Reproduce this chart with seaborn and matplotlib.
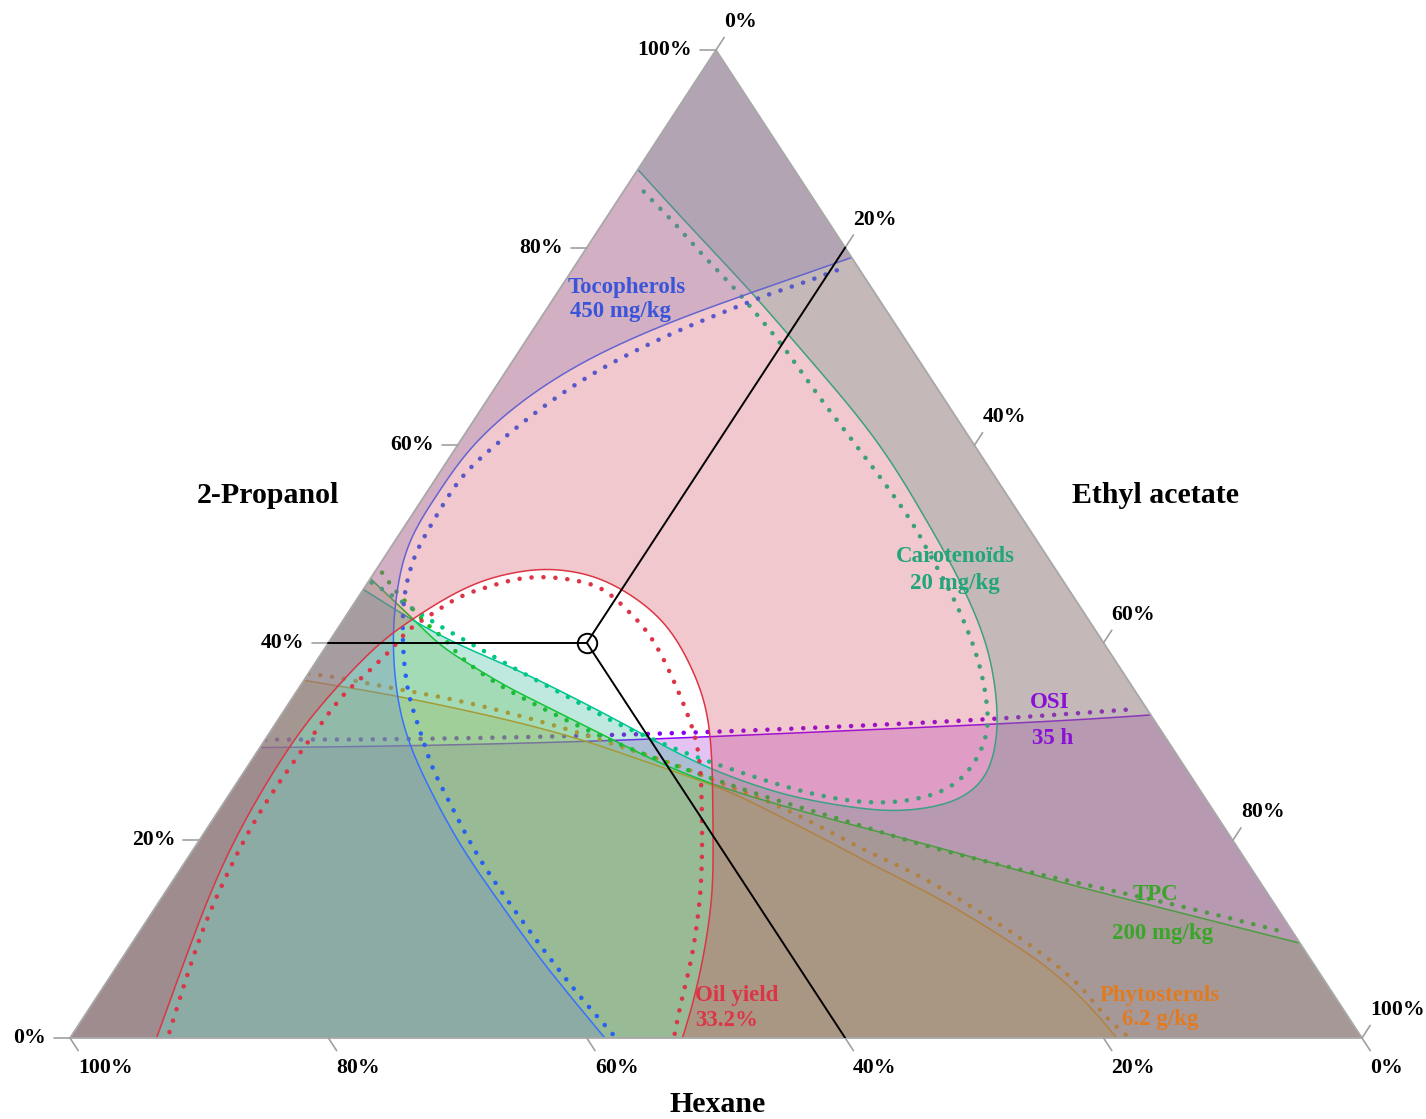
import numpy as np
import matplotlib
matplotlib.use("Agg")
import matplotlib.pyplot as plt
from matplotlib.patches import Polygon
import seaborn as sns

# Contours of the fitted responses, as mixture compositions in %:
# *_p = 2-propanol, *_e = ethyl acetate (hexane = 100 - p - e).
# Solid line = threshold contour, dotted line = its confidence bound.
oil_level = 33.2
oil_p = [0, 8.9, 19.0, 29.5, 34.2, 40.0, 42.7, 44.8, 46.4, 47.2, 47.5, 47.3, 46.6, 44.8,
         42.0, 38.0, 33.5, 28.4, 24.1, 18.0, 14.0, 8.9, 3.8, 0]
oil_e = [6.7, 4.7, 2.6, 2.1, 2.6, 3.8, 5.5, 7.0, 8.8, 11.0, 12.9, 15.1, 17.7, 21.2,
         25.2, 29.0, 32.6, 35.5, 37.7, 40.8, 42.7, 44.7, 46.4, 47.4]
oil_ci_p = [0.6, 8.9, 14.0, 19.3, 23.4, 27.4, 31.2, 34.9, 36.5, 38.3, 39.5, 41.3, 42.8, 44.1,
            45.0, 45.6, 46.6, 46.7, 46.4, 45.9, 45.0, 43.3, 41.3, 38.6, 34.2, 29.5, 24.4,
            18.7, 14.0, 7.9, 3.8, 0.4]
oil_ci_e = [7.4, 5.2, 4.2, 3.5, 3.2, 3.3, 3.5, 3.7, 4.4, 4.9, 5.3, 5.4, 6.5, 7.3,
            8.2, 9.4, 11.4, 13.6, 15.7, 17.6, 19.3, 21.5, 24.0, 26.6, 30.3, 34.0, 36.7,
            39.6, 41.8, 44.2, 45.4, 46.6]

toco_level = 450
toco_p = [79.0, 75.5, 72.4, 68.6, 64.3, 59.8, 55.5, 50.4, 45.3, 40.0, 33.5, 28.8, 24.1,
          19.0, 14.0, 8.9, 4.4, 0]
toco_e = [21.0, 15.1, 10.0, 5.4, 2.5, 1.0, 0.9, 0.9, 2.6, 4.9, 8.6, 12.1, 16.2,
          20.9, 26.1, 31.4, 36.4, 41.4]
toco_ci_p = [77.7, 76.4, 75.4, 74.2, 72.4, 70.3, 67.4, 63.6, 59.3, 56.8, 53.2, 49.6, 47.4,
             44.6, 40.6, 36.5, 33.9, 30.9, 27.1, 24.4, 19.0, 14.0, 8.9, 4.4, 0.4]
toco_ci_e = [20.5, 18.5, 16.6, 14.9, 12.3, 9.7, 6.8, 4.4, 2.6, 1.8, 1.9, 2.1, 2.6,
             3.5, 5.4, 7.7, 9.4, 11.7, 14.5, 17.0, 21.7, 26.8, 32.2, 37.1, 41.8]

carot_level = 20
carot_p = [45.4, 40.5, 37.8, 34.5, 30.9, 27.6, 25.1, 24.1, 23.3, 22.9, 23.3, 24.4, 26.8,
           30.9, 35.2, 40.3, 46.4, 52.4, 60.5, 68.6, 75.7, 81.8, 87.9]
carot_e = [0, 8.4, 14.9, 21.7, 28.7, 34.9, 41.4, 45.0, 49.0, 52.3, 55.2, 57.2, 57.8,
           56.4, 54.1, 50.8, 45.7, 40.1, 32.4, 23.0, 14.8, 7.3, 0]
carot_ci_p = [46.1, 44.3, 41.8, 39.6, 37.6, 35.9, 33.9, 32.0, 30.5, 28.6, 26.8, 24.9, 23.8,
              23.8, 24.8, 26.8, 30.2, 33.2, 37.6, 41.5, 45.5, 49.2, 52.4, 59.5, 64.6,
              69.4, 73.2, 76.4, 79.0, 82.3, 84.5, 86.3]
carot_ci_e = [0.3, 3.4, 7.5, 11.7, 15.3, 18.6, 22.5, 26.0, 29.4, 33.7, 38.7, 44.1, 49.0,
              52.4, 55.2, 56.2, 55.9, 54.5, 51.7, 48.7, 45.3, 41.8, 39.0, 31.4, 25.8,
              20.9, 16.6, 12.9, 9.6, 5.8, 3.0, 0.8]

osi_level = 35
osi_p = [29.4, 29.5, 30.0, 30.9, 32.0, 32.7]
osi_e = [0, 9.3, 26.0, 41.1, 59.9, 67.3]
osi_ci_p = [30.2, 30.2, 30.6, 31.1, 31.8, 32.3, 33.3]
osi_ci_e = [0, 10.5, 25.7, 37.1, 48.4, 55.8, 65.9]

tpc_level = 200
tpc_p = [46.5, 42.0, 39.6, 37.6, 35.5, 33.9, 32.2, 30.5, 28.3, 26.1, 24.1, 21.6, 19.0,
         16.3, 13.7, 9.6]
tpc_e = [0, 5.9, 8.9, 12.4, 16.1, 19.4, 22.8, 26.3, 30.7, 35.7, 41.4, 49.6, 58.6,
         66.9, 76.0, 90.4]
tpc_ci_p = [47.1, 45.0, 43.8, 41.8, 40.6, 38.8, 37.2, 35.5, 33.5, 31.5, 29.7, 28.1, 26.1,
            24.1, 22.3, 20.2, 18.5, 16.3, 14.3, 12.7, 10.9]
tpc_ci_e = [0.6, 2.8, 4.4, 6.7, 8.6, 10.6, 12.9, 15.7, 19.6, 23.7, 27.7, 31.6, 37.0,
            42.4, 48.2, 54.1, 59.6, 67.7, 75.7, 81.7, 88.0]

phyto_level = 6.2
phyto_p = [36.2, 34.9, 33.5, 32.0, 30.2, 28.4, 26.1, 24.8, 23.1, 21.4, 19.7, 18.2, 16.2,
           13.5, 10.4, 7.1, 3.3, 0]
phyto_e = [0, 6.8, 12.7, 18.6, 24.6, 29.4, 35.7, 38.9, 42.4, 45.8, 49.2, 52.0, 56.1,
           61.4, 66.8, 72.3, 77.3, 81.0]
phyto_ci_p = [36.9, 36.5, 35.5, 34.5, 33.5, 32.2, 30.9, 29.1, 27.6, 25.9, 24.6, 22.8, 20.7,
              18.7, 16.5, 13.7, 10.9, 7.6, 4.9, 2.3, 0.3]
phyto_ci_e = [0, 2.5, 6.8, 11.6, 15.5, 19.9, 24.0, 28.9, 33.4, 37.1, 40.6, 44.6, 48.7,
              52.6, 57.5, 62.4, 67.3, 72.4, 76.1, 78.8, 81.6]

# optimal blend (hexane, 2-propanol, ethyl acetate) in %
opt_hexane, opt_propanol, opt_acetate = 40, 40, 20
tick_values = [0, 20, 40, 60, 80, 100]

sns.set_theme(style="white")
plt.rcParams["font.family"] = ["Liberation Serif", "DejaVu Serif"]
plt.rcParams["font.weight"] = "bold"

W, H = 1426, 1119
fig = plt.figure(figsize=(W / 100, H / 100), dpi=100)
fig.patch.set_facecolor("white")
ax = fig.add_axes([70 / W, 81 / H, 1292 / W, 988 / H])
PX_X, PX_Y = 1292.0, 988.0


def tern(p, e):
    p = np.asarray(p, float) / 100.0
    e = np.asarray(e, float) / 100.0
    return e + p / 2.0, p


def basis(x, y, n=16):
    """Clamped cubic B-spline through the contour vertices (smooth contour rendering)."""
    pts = np.column_stack([np.atleast_1d(x), np.atleast_1d(y)])
    P = np.vstack([pts[0], pts[0], pts, pts[-1], pts[-1]])
    t = np.linspace(0, 1, n, endpoint=False)[:, None]
    b0 = (1 - t) ** 3 / 6
    b1 = (3 * t ** 3 - 6 * t ** 2 + 4) / 6
    b2 = (-3 * t ** 3 + 3 * t ** 2 + 3 * t + 1) / 6
    b3 = t ** 3 / 6
    out = [b0 * P[i] + b1 * P[i + 1] + b2 * P[i + 2] + b3 * P[i + 3]
           for i in range(len(P) - 3)]
    out.append(pts[-1][None])
    out = np.vstack(out)
    return out[:, 0], out[:, 1]


V_H, V_E, V_P = (0.0, 0.0), (1.0, 0.0), (0.5, 1.0)
tri = Polygon([V_H, V_E, V_P], closed=True, transform=ax.transData)

DOT = (0, (0.01, 2.6))
ALPHA = 0.29
responses = [
    # p, e, ci_p, ci_e, corners closing the unfavourable side, fill, line, dots
    (osi_p, osi_e, osi_ci_p, osi_ci_e, [V_E, V_H], "#a333d3", "#8a00ff", "#8800f0"),
    (phyto_p, phyto_e, phyto_ci_p, phyto_ci_e, [V_H], "#ebaf37", "#ff8100", "#ff7e08"),
    (tpc_p, tpc_e, tpc_ci_p, tpc_ci_e, [V_E, V_H], "#7fbf3f", "#10c810", "#18c018"),
    (carot_p, carot_e, carot_ci_p, carot_ci_e, [V_P, V_E, V_H], "#23b393", "#00c692", "#00c684"),
    (toco_p, toco_e, toco_ci_p, toco_ci_e, [V_H, V_P], "#6c88cc", "#3771ff", "#2661f5"),
    (oil_p, oil_e, oil_ci_p, oil_ci_e, [V_E, V_P, V_H], "#d3435b", "#dc3545", "#dc3548"),
]

z = 1
for p, e, cp, ce, corners, fcol, lcol, dcol in responses:
    sx, sy = basis(*tern(p, e))
    px = np.concatenate([sx, [c[0] for c in corners]])
    py = np.concatenate([sy, [c[1] for c in corners]])
    patch = Polygon(np.column_stack([px, py]), closed=True, facecolor=fcol, alpha=ALPHA,
                    edgecolor="none", zorder=z)
    ax.add_patch(patch)
    patch.set_clip_path(tri)
    z += 1
    sns.lineplot(x=sx, y=sy, sort=False, estimator=None, ax=ax, color=lcol, lw=1.1)
    ax.lines[-1].set_zorder(z)
    ax.lines[-1].set_clip_path(tri)
    z += 1
    dx, dy = basis(*tern(cp, ce))
    sns.lineplot(x=dx, y=dy, sort=False, estimator=None, ax=ax, color=dcol, lw=3.3,
                 linestyle=DOT, dash_capstyle="round")
    ax.lines[-1].set_zorder(z)
    ax.lines[-1].set_clip_path(tri)
    z += 1

# triangle frame
ax.plot([0, 1, 0.5, 0], [0, 0, 1, 0], color="#a8a8a8", lw=1.3, zorder=z, clip_on=False)
z += 1

# axis ticks and labels
gray = "#a0a0a0"
tk = dict(fontsize=15.7, fontweight="bold", color="black", textcoords="offset pixels",
          annotation_clip=False)
for v in tick_values:
    x0, y0 = tern(v, 0)  # 2-propanol, left edge
    ax.plot([x0 - 16 / PX_X, x0], [y0, y0], color=gray, lw=1.2, clip_on=False, zorder=z)
    ax.annotate(f"{v}%", (x0, y0), xytext=(-24, 0), ha="right", va="center", **tk)
    x0, y0 = tern(0, 100 - v)  # hexane, bottom edge
    ax.plot([x0, x0 + 8.2 / PX_X], [y0, y0 - 12.6 / PX_Y], color=gray, lw=1.2,
            clip_on=False, zorder=z)
    ax.annotate(f"{v}%", (x0, y0), xytext=(8, -30), ha="left", va="center", **tk)
    x0, y0 = tern(100 - v, v)  # ethyl acetate, right edge
    ax.plot([x0, x0 + 8.2 / PX_X], [y0, y0 + 12.6 / PX_Y], color=gray, lw=1.2,
            clip_on=False, zorder=z)
    ax.annotate(f"{v}%", (x0, y0), xytext=(8, 28), ha="left", va="center", **tk)

# optimum composition and its guide lines
ox, oy = tern(opt_propanol, opt_acetate)
for gx, gy in [tern(opt_propanol, 0), tern(100 - opt_acetate, opt_acetate),
               tern(0, 100 - opt_hexane)]:
    ax.plot([ox, gx], [oy, gy], color="black", lw=1.4, zorder=z + 1)
ax.plot([ox], [oy], marker="o", ms=14, mfc="none", mec="black", mew=1.4, zorder=z + 2)

ax.set_xlim(0, 1)
ax.set_ylim(0, 1)
ax.axis("off")


def ftext(xp, yp, s, **kw):
    fig.text(xp / W, 1 - yp / H, s, fontweight="bold", **kw)


ftext(268, 495, "2-Propanol", fontsize=21.5, ha="center", va="center", color="black")
ftext(1155, 495, "Ethyl acetate", fontsize=21.5, ha="center", va="center", color="black")
ftext(718, 1105, "Hexane", fontsize=21.5, ha="center", va="center", color="black")

lab = dict(fontsize=16.5, va="center")
ftext(568, 287, "Tocopherols", color="#3b55d9", ha="left", **lab)
ftext(570, 311, f"{toco_level} mg/kg", color="#3b55d9", ha="left", **lab)
ftext(955, 556, "Carotenoïds", color="#22a57a", ha="center", **lab)
ftext(955, 584, f"{carot_level} mg/kg", color="#22a57a", ha="center", **lab)
ftext(1050, 703, "OSI", color="#8a10d6", ha="center", **lab)
ftext(1053, 738, f"{osi_level} h", color="#8a10d6", ha="center", **lab)
ftext(1155, 895, "TPC", color="#3aa52a", ha="center", **lab)
ftext(1163, 933, f"{tpc_level} mg/kg", color="#3aa52a", ha="center", **lab)
ftext(1160, 996, "Phytosterols", color="#e07b22", ha="center", **lab)
ftext(1160, 1020, f"{phyto_level} g/kg", color="#e07b22", ha="center", **lab)
ftext(695, 995, "Oil yield", color="#dc3546", ha="left", **lab)
ftext(695, 1020, f"{oil_level}%", color="#dc3546", ha="left", **lab)

fig.savefig("out.png", dpi=100, facecolor="white")
